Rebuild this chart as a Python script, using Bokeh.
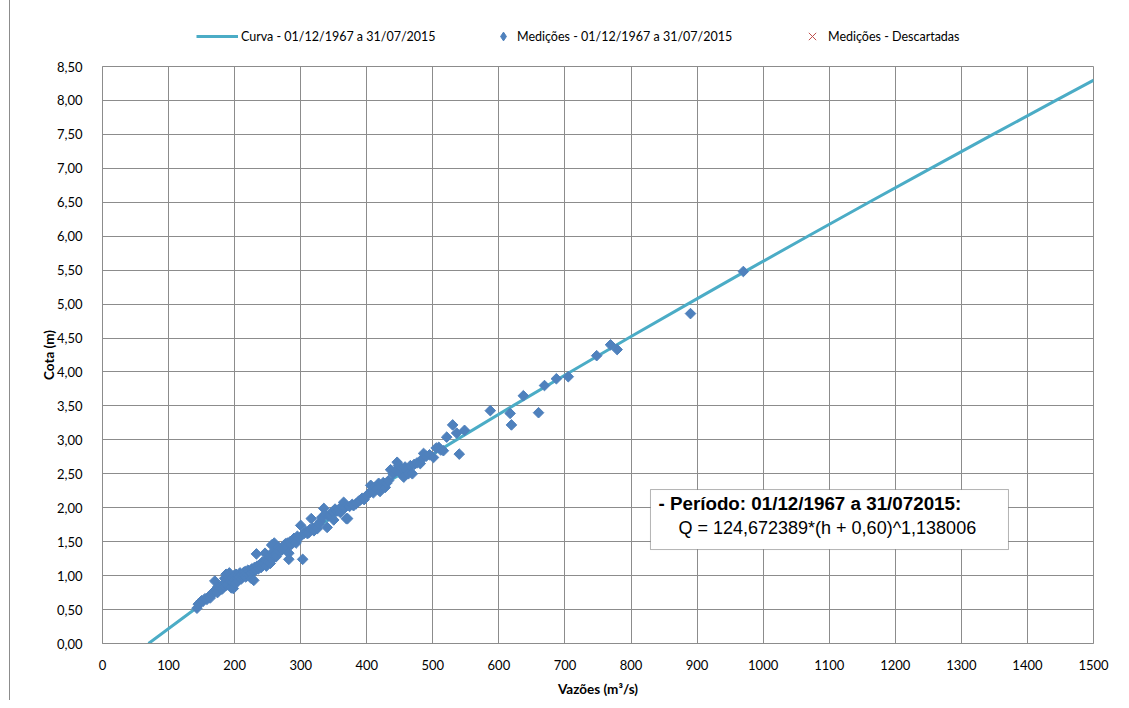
import math
from bokeh.plotting import figure
from bokeh.layouts import column
from bokeh.models import (Range1d, CustomJSTickFormatter, Legend, LegendItem,
                          BoxAnnotation, Label)
from bokeh.embed import file_html
from bokeh.resources import INLINE

# Rating curve (Q in m3/s, h in m)
curve_h = [0.0, 0.5, 1.0, 1.5, 2.0, 2.5, 3.0, 3.5, 4.0, 4.5, 5.0, 5.5, 6.0,
           6.5, 7.0, 7.5, 8.0, 8.3]
curve_q = [69.7, 139.0, 212.8, 290.0, 369.9, 451.8, 535.6, 621.1, 708.0,
           796.1, 885.6, 976.1, 1067.6, 1160.2, 1253.6, 1347.8, 1443.1, 1500.4]

# Measurements
meas_q = [143, 145, 148, 150, 152, 155, 158, 160, 162, 163, 165, 167, 168, 170, 170,
          172, 174, 175, 176, 178, 180, 181, 183, 184, 185, 186, 187, 188, 189, 190,
          191, 192, 193, 194, 195, 196, 197, 198, 199, 200,
          201, 202, 204, 205, 206, 207, 208, 210, 211, 212, 214, 215, 216, 217, 218,
          220, 221, 222, 224, 225, 226, 228, 229, 230, 232, 233, 234, 236, 238, 240,
          242, 243, 245, 246, 247, 248, 250, 251, 253, 254, 255, 256, 257, 258, 259, 260,
          262, 263, 265, 266, 268, 270, 272, 274, 275, 277, 279, 280, 282, 282, 284,
          286, 288, 290, 292, 293, 295, 297, 300, 303, 305, 308, 310, 312, 314, 316,
          318, 320,
          323, 325, 328, 330, 332, 335, 337, 340, 342, 345, 348, 350, 352, 355, 358,
          360, 362, 365, 367, 369, 371, 374, 378, 380, 384, 388, 390, 393, 396, 400,
          404, 406, 408, 410, 412, 415, 418, 420, 422, 425, 428, 430, 433, 436, 440,
          444, 446, 448, 450, 453, 456, 458, 460, 463, 466, 469, 472, 476, 481, 484,
          486, 490, 495, 501, 505, 509, 512, 516, 521, 530, 536, 540, 548,
          587, 617, 619, 637, 660, 669, 687, 705, 748, 769, 779, 890, 970]
meas_h = [0.52, 0.58, 0.60, 0.63, 0.62, 0.66, 0.65, 0.68, 0.70, 0.67, 0.72, 0.74, 0.76, 0.92, 0.78,
          0.80, 0.75, 0.84, 0.78, 0.82, 0.85, 0.80, 0.88, 0.84, 0.96, 0.90, 1.02, 0.86, 0.93, 0.88,
          0.98, 1.04, 0.92, 0.95, 0.82, 0.97, 0.90, 0.81, 1.00, 0.94,
          0.88, 1.02, 0.96, 0.92, 1.00, 0.97, 1.04, 0.95, 1.02, 0.98, 1.05, 1.00, 1.06, 0.98, 1.03,
          1.08, 1.02, 1.06, 1.04, 0.96, 1.10, 1.06, 0.93, 1.12, 1.08, 1.32, 1.14, 1.10, 1.16, 1.12,
          1.20, 1.15, 1.18, 1.33, 1.22, 1.14, 1.25, 1.20, 1.28, 1.18, 1.30, 1.45, 1.24, 1.35, 1.30, 1.48,
          1.32, 1.28, 1.38, 1.42, 1.35, 1.40, 1.38, 1.44, 1.40, 1.47, 1.42, 1.48, 1.33, 1.24, 1.50,
          1.46, 1.52, 1.55, 1.52, 1.48, 1.58, 1.55, 1.74, 1.24, 1.62, 1.65, 1.62, 1.63, 1.68, 1.84,
          1.70, 1.66,
          1.72, 1.69, 1.76, 1.80, 1.86, 1.99, 1.90, 1.71, 1.88, 1.89, 1.94, 1.82, 1.98, 1.95, 1.97,
          1.93, 2.02, 2.08, 2.00, 1.84, 1.84, 2.02, 2.05, 2.03, 2.06, 2.10, 2.11, 2.14, 2.12, 2.18,
          2.22, 2.33, 2.26, 2.22, 2.30, 2.28, 2.36, 2.24, 2.32, 2.37, 2.30, 2.36, 2.40, 2.56, 2.50,
          2.55, 2.67, 2.62, 2.52, 2.58, 2.45, 2.60, 2.55, 2.50, 2.62, 2.50, 2.64, 2.66, 2.65, 2.72,
          2.80, 2.76, 2.78, 2.74, 2.88, 2.89, 2.85, 2.84, 3.04, 3.22, 3.10, 2.79, 3.14,
          3.43, 3.39, 3.22, 3.65, 3.40, 3.80, 3.90, 3.93, 4.24, 4.40, 4.33, 4.86, 5.48]

# Discarded measurements (none in this period)
disc_q = [float("nan")]
disc_h = [float("nan")]

x_ticks = [0, 100, 200, 300, 400, 500, 600, 700, 800, 900, 1000, 1100, 1200, 1300, 1400, 1500]
y_ticks = [0.0, 0.5, 1.0, 1.5, 2.0, 2.5, 3.0, 3.5, 4.0, 4.5, 5.0, 5.5, 6.0, 6.5, 7.0, 7.5, 8.0, 8.5]

GRID = "#8c8c8c"
FONT = "Lato"
LINE_C = "#4bacc6"
MARK_C = "#4f81bd"
DISC_C = "#c0504d"

# ---------- header with legend ----------
HDR_H = 50
hdr = figure(width=1111, height=HDR_H, x_range=Range1d(0, 1), y_range=Range1d(0, 1),
             output_backend="svg", toolbar_location=None, min_border=0)
hdr.axis.visible = False
hdr.grid.visible = False
hdr.outline_line_color = None
hdr.background_fill_color = "white"
hdr.border_fill_color = "white"
leg_curve = hdr.line(disc_q, disc_h, line_color=LINE_C, line_width=3)
leg_meas = hdr.scatter(disc_q, disc_h, marker="diamond", fill_color=MARK_C, line_color=MARK_C)
leg_disc = hdr.scatter(disc_q, disc_h, marker="x", line_color=DISC_C, line_width=1)


def make_legend(label, rend, loc, gw, standoff):
    lg = Legend(items=[LegendItem(label=label, renderers=[rend])], location=loc,
                orientation="horizontal")
    lg.border_line_color = None
    lg.background_fill_alpha = 0
    lg.label_text_font = FONT
    lg.label_text_font_size = "12.5px"
    lg.label_text_color = "#000000"
    lg.glyph_width = gw
    lg.glyph_height = gw if gw < 30 else 22
    lg.label_standoff = standoff
    lg.padding = 0
    lg.margin = 0
    lg.label_height = 22
    return lg


hdr.add_layout(make_legend("Curva - 01/12/1967 a 31/07/2015", leg_curve, (94, 3), 42, 3))
hdr.add_layout(make_legend("Medições - 01/12/1967 a 31/07/2015", leg_meas, (390, 3), 22, 3))
hdr.add_layout(make_legend("Medições - Descartadas", leg_disc, (697, 1), 26, 3))

# ---------- main chart ----------
p = figure(width=1111, height=700 - HDR_H, x_range=Range1d(0, 1500), y_range=Range1d(0, 8.5),
           output_backend="svg", toolbar_location=None,
           min_border_left=92, min_border_right=28, min_border_top=66 - HDR_H,
           min_border_bottom=57)
p.background_fill_color = "white"
p.border_fill_color = "white"
p.outline_line_color = GRID

p.xaxis.ticker = x_ticks
p.yaxis.ticker = y_ticks
p.yaxis.formatter = CustomJSTickFormatter(code="return tick.toFixed(2).replace('.', ',');")
for ax in (p.xaxis, p.yaxis):
    ax.axis_line_color = GRID
    ax.major_tick_line_color = None
    ax.minor_tick_line_color = None
    ax.major_label_text_font = FONT
    ax.major_label_text_font_size = "13px"
    ax.major_label_text_color = "#000000"
    ax.axis_label_text_font = FONT
    ax.axis_label_text_font_size = "13.5px"
    ax.axis_label_text_font_style = "bold"
    ax.axis_label_text_color = "#000000"
p.yaxis.major_label_standoff = 14
p.xaxis.major_label_standoff = 10
p.yaxis.axis_label_standoff = -3
p.xaxis.axis_label_standoff = 8
p.xaxis.axis_label = "Vazões (m³/s)"
p.yaxis.axis_label = "Cota (m)"
p.grid.grid_line_color = GRID
p.grid.grid_line_width = 1

p.line(curve_q, curve_h, line_color=LINE_C, line_width=3)
p.scatter(meas_q, meas_h, marker="square", size=7.5, angle=math.pi / 4,
          fill_color=MARK_C, line_color=MARK_C)
p.scatter(disc_q, disc_h, marker="x", size=10, line_color=DISC_C, line_width=1)

box = BoxAnnotation(left=829.4, right=1371.3, bottom=1.384, top=2.268,
                    fill_color="white", fill_alpha=1, line_color="black", line_width=1)
p.add_layout(box)
p.add_layout(Label(x=841.5, y=2.062, text="- Período: 01/12/1967 a 31/072015:",
                   text_font="Liberation Sans", text_font_style="bold",
                   text_font_size="18.8px", text_baseline="middle", text_color="black"))
p.add_layout(Label(x=871.8, y=1.708, text="Q = 124,672389*(h + 0,60)^1,138006",
                   text_font="Liberation Sans", text_font_size="18px",
                   text_baseline="middle", text_color="black"))

layout = column(hdr, p, spacing=0)
layout.styles = {"margin-left": "9px", "border-left": "1px solid #8c8c8c"}

open("out.html", "w").write(file_html(layout, INLINE))
